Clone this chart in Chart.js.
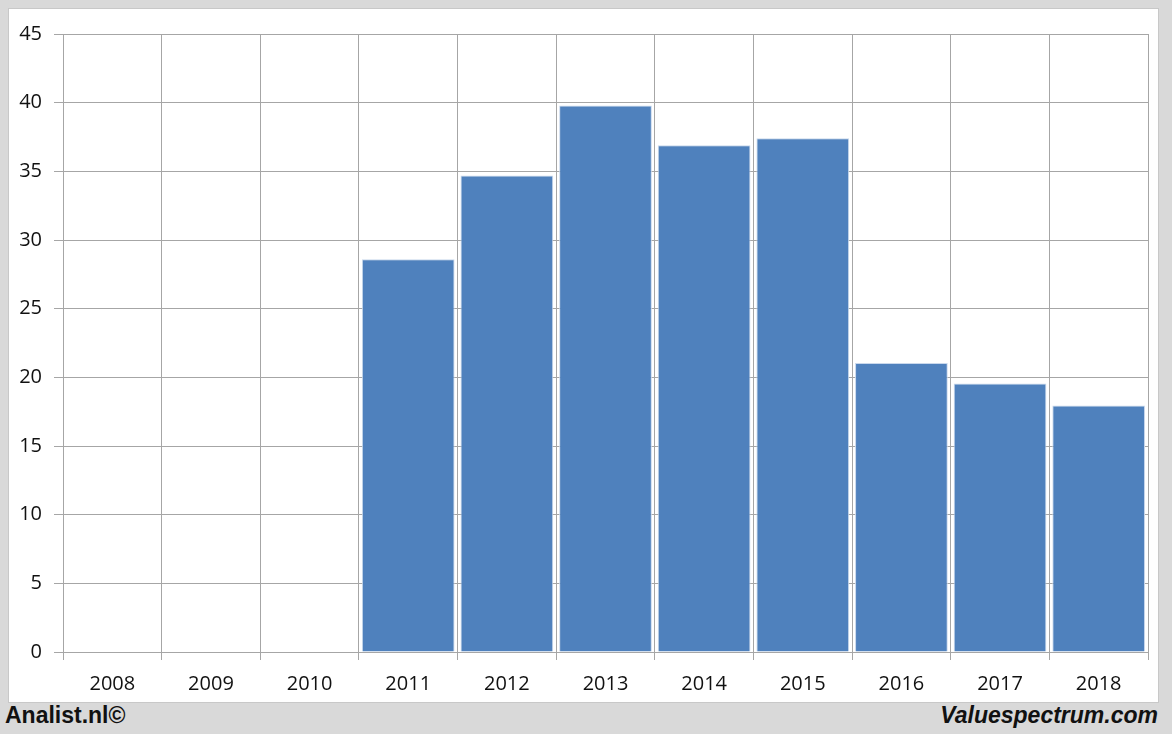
<!DOCTYPE html>
<html>
<head>
<meta charset="utf-8">
<script src="https://cdn.jsdelivr.net/npm/chart.js@4"></script>
<style>
html,body{margin:0;padding:0;background:#d9d9d9;width:1172px;height:734px;overflow:hidden;font-family:"Open Sans","Liberation Sans",sans-serif;}
#panel{position:absolute;left:8px;top:8px;width:1149px;height:693px;background:#fff;border:1px solid #c8c8c8;}
#wrap{position:absolute;left:0;top:0;width:1149px;height:693px;}
#left{position:absolute;left:5px;top:702px;font-size:23px;font-weight:bold;color:#111;font-family:"Liberation Sans",sans-serif;}
#right{position:absolute;right:14px;top:702px;font-size:23px;font-weight:bold;font-style:italic;color:#111;font-family:"Liberation Sans",sans-serif;}
</style>
</head>
<body>
<div id="panel"><div id="wrap"><canvas id="c" width="1149" height="693"></canvas></div></div>
<div id="left">Analist.nl©</div>
<div id="right">Valuespectrum.com</div>
<script>
const categories = ["2008","2009","2010","2011","2012","2013","2014","2015","2016","2017","2018"];
const values = [null,null,null,28.6,34.7,39.8,36.9,37.4,21.05,19.55,17.95];
const yTicks = [0,5,10,15,20,25,30,35,40,45];

Chart.defaults.font.family = '"Open Sans","Liberation Sans",sans-serif';
Chart.defaults.font.size = 20;
Chart.defaults.color = '#111';

new Chart(document.getElementById('c'), {
  type: 'bar',
  data: {
    labels: categories,
    datasets: [{
      data: values,
      backgroundColor: '#4f81bd',
      borderColor: '#c9d8ec',
      borderWidth: 1,
      barPercentage: 0.94,
      categoryPercentage: 1.0
    }]
  },
  options: {
    responsive: false,
    animation: false,
    layout: { padding: { top: 25, right: 10, left: 0, bottom: 0 } },
    plugins: { legend: { display: false }, tooltip: { enabled: false } },
    scales: {
      x: {
        offset: true,
        grid: { offset: true, color: '#a6a6a6', lineWidth: 1, tickLength: 8, drawTicks: true },
        border: { color: '#a6a6a6' },
        ticks: { padding: 12, maxRotation: 0 },
        afterFit: s => { s.height = 50; }
      },
      y: {
        min: 0, max: 45,
        afterBuildTicks: s => { s.ticks = yTicks.map(v => ({ value: v })); },
        grid: { color: '#a6a6a6', lineWidth: 1, tickLength: 9 },
        border: { color: '#a6a6a6' },
        ticks: { padding: 12 },
        afterFit: s => { s.width = 54; }
      }
    }
  }
});
</script>
</body>
</html>
